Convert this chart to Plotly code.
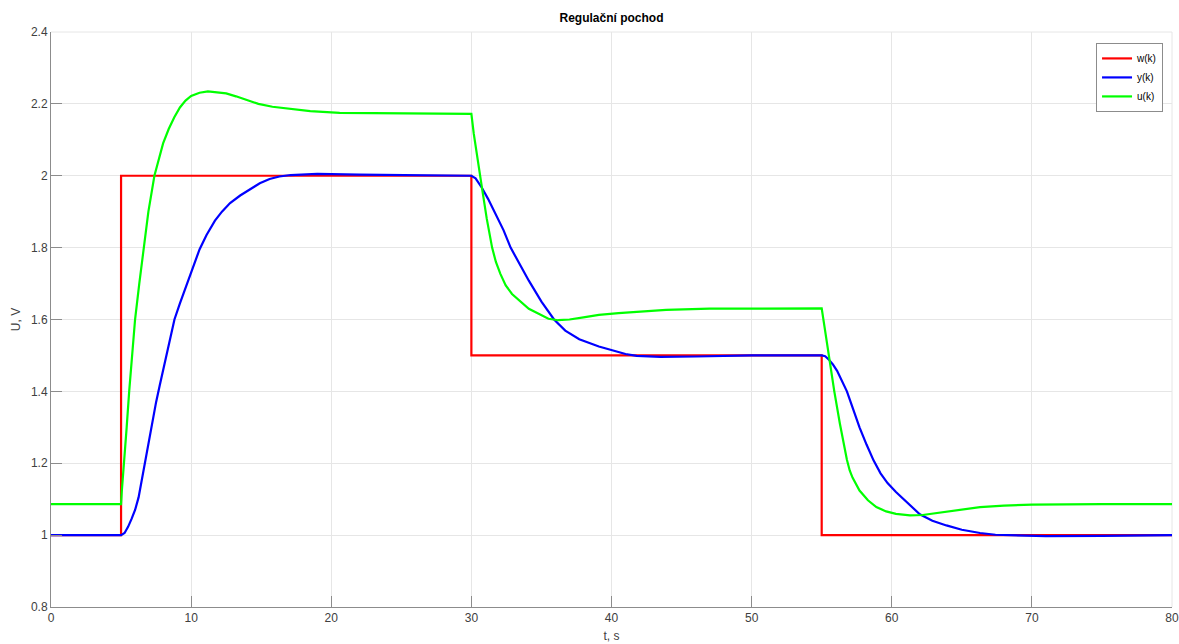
import plotly.graph_objects as go

# ---- data ----
t_w = [0, 5, 5, 30, 30, 55, 55, 80]
w_k = [1.0, 1.0, 2.0, 2.0, 1.5, 1.5, 1.0, 1.0]

t_y = [0, 5.0, 5.25, 5.5, 5.75, 6.0, 6.25, 6.5, 6.75, 7.0, 7.25, 7.5, 7.75, 8.0, 8.25, 8.5,
       8.81, 9.2, 9.7, 10.1, 10.6, 11.1, 11.7, 12.2, 12.78, 13.5, 14.2, 14.9, 15.6, 16.3,
       17.1, 18.0, 19.0, 22.0, 26.0, 30.0,
       30.3, 30.76, 31.2, 31.7, 32.3, 32.8, 33.45, 34.1, 35.0, 35.9, 36.7, 37.7, 39.1,
       40.1, 41.0, 41.8, 43.5, 46.0, 50.0, 55.0,
       55.25, 55.5, 55.8, 56.1, 56.45, 56.8, 57.25, 57.7, 58.2, 58.7, 59.2, 59.7, 60.3, 61.1,
       62.0, 62.9, 63.9, 65.0, 66.3, 67.4, 68.6, 71.0, 75.0, 80.0]
y_k = [1.0, 1.0, 1.006, 1.023, 1.045, 1.07, 1.105, 1.16, 1.215, 1.27, 1.325, 1.37, 1.415,
       1.46, 1.5, 1.55, 1.6, 1.645, 1.7, 1.745, 1.795, 1.835, 1.875, 1.9, 1.924, 1.945, 1.963,
       1.979, 1.991, 1.998, 2.002, 2.004, 2.005, 2.003, 2.001, 2.0,
       1.993, 1.966, 1.935, 1.894, 1.848, 1.8, 1.752, 1.708, 1.65, 1.6, 1.569, 1.545, 1.525,
       1.513, 1.504, 1.499, 1.496, 1.497, 1.5, 1.5,
       1.498, 1.489, 1.475, 1.457, 1.43, 1.4, 1.35, 1.30, 1.252, 1.208, 1.172, 1.145, 1.12,
       1.09, 1.058, 1.04, 1.027, 1.015, 1.006, 1.001, 0.999, 0.997, 0.998, 1.0]

t_u = [0, 5.0, 5.05, 5.1, 5.22, 5.4, 5.58, 5.8, 6.0, 6.3, 6.6, 6.95, 7.38, 7.67, 8.0, 8.4,
       8.8, 9.2, 9.6, 10.0, 10.6, 11.2, 11.8, 12.5, 13.2, 14.0, 14.8, 15.8, 17.0, 18.5,
       20.6, 25.0, 30.0,
       30.17, 30.6, 30.8, 31.1, 31.48, 31.75, 32.07, 32.45, 32.9, 34.1, 35.5, 36.2, 37.0,
       38.0, 39.1, 40.5, 42.0, 43.9, 47.0, 50.0, 55.0,
       55.2, 55.5, 55.9, 56.3, 56.6, 56.8, 57.0, 57.2, 57.7, 58.3, 58.9, 59.6, 60.3, 61.3,
       62.2, 63.0, 63.9, 65.0, 66.3, 68.0, 70.0, 75.0, 80.0]
u_k = [1.086, 1.086, 1.12, 1.15, 1.2, 1.3, 1.4, 1.5, 1.6, 1.7, 1.8, 1.9, 2.0, 2.043, 2.09,
       2.13, 2.163, 2.19, 2.209, 2.222, 2.231, 2.235, 2.233, 2.229, 2.221, 2.211, 2.2, 2.192,
       2.186, 2.18, 2.175, 2.173, 2.172,
       2.117, 2.0, 1.955, 1.88, 1.8, 1.76, 1.727, 1.695, 1.671, 1.630, 1.602, 1.598, 1.600,
       1.606, 1.613, 1.618, 1.622, 1.627, 1.630, 1.631, 1.631,
       1.58, 1.499, 1.4, 1.31, 1.245, 1.21, 1.18, 1.16, 1.124, 1.097, 1.078, 1.066, 1.059,
       1.055, 1.056, 1.06, 1.066, 1.072, 1.078, 1.082, 1.085, 1.086, 1.086]

x_ticks = [0, 10, 20, 30, 40, 50, 60, 70, 80]
y_ticks = [0.8, 1.0, 1.2, 1.4, 1.6, 1.8, 2.0, 2.2, 2.4]
y_tick_labels = ["0.8", "1", "1.2", "1.4", "1.6", "1.8", "2", "2.2", "2.4"]

FONT = "Liberation Sans, Arial, sans-serif"
GRID = "#e6e6e6"
AX = "#8c8c8c"
TXT = "#404040"

fig = go.Figure()
fig.add_trace(go.Scatter(x=t_w, y=w_k, mode="lines", name="w(k)",
                         line=dict(color="#ff0000", width=2.2)))
fig.add_trace(go.Scatter(x=t_y, y=y_k, mode="lines", name="y(k)",
                         line=dict(color="#0000ff", width=2.2)))
fig.add_trace(go.Scatter(x=t_u, y=u_k, mode="lines", name="u(k)",
                         line=dict(color="#00ff00", width=2.2)))

fig.update_layout(
    width=1179, height=644,
    margin=dict(l=51, r=7, t=32, b=37, autoexpand=False),
    paper_bgcolor="white", plot_bgcolor="white",
    font=dict(family=FONT, size=12, color=TXT),
    title=dict(text="<b>Regulační pochod</b>", x=0.5, xanchor="center",
               xref="paper", y=0.972, yanchor="middle",
               font=dict(family=FONT, size=12, color="#000000")),
    showlegend=True,
    legend=dict(x=0.992, y=0.981, xanchor="right", yanchor="top",
                bgcolor="white", bordercolor="#8c8c8c", borderwidth=1,
                font=dict(family=FONT, size=10, color="#000000"),
                tracegroupgap=0, itemwidth=30),
    xaxis=dict(range=[0, 80], tickvals=x_ticks, showgrid=True, gridcolor=GRID, gridwidth=1,
               automargin=False,
               zeroline=False, showline=True, linecolor=AX, linewidth=1,
               ticks="inside", ticklen=11, tickcolor=AX, tickfont=dict(size=12, color=TXT),
               title=dict(text="t, s", standoff=7, font=dict(size=12, color=TXT))),
    yaxis=dict(range=[0.8, 2.4], tickvals=y_ticks, ticktext=y_tick_labels,
               showgrid=True, gridcolor=GRID, gridwidth=1, automargin=False,
               zeroline=False, showline=True, linecolor=AX, linewidth=1,
               ticks="inside", ticklen=11, tickcolor=AX, tickfont=dict(size=12, color=TXT),
               title=dict(text="U, V", standoff=7, font=dict(size=12, color=TXT))),
)
# light frame on top and right (grid-coloured, as in the reference)
fig.add_shape(type="line", xref="paper", yref="paper", x0=0, x1=1, y0=1, y1=1,
              line=dict(color=GRID, width=1), layer="below")
fig.add_shape(type="line", xref="paper", yref="paper", x0=1, x1=1, y0=0, y1=1,
              line=dict(color=GRID, width=1), layer="below")

fig.write_html("out.html")
